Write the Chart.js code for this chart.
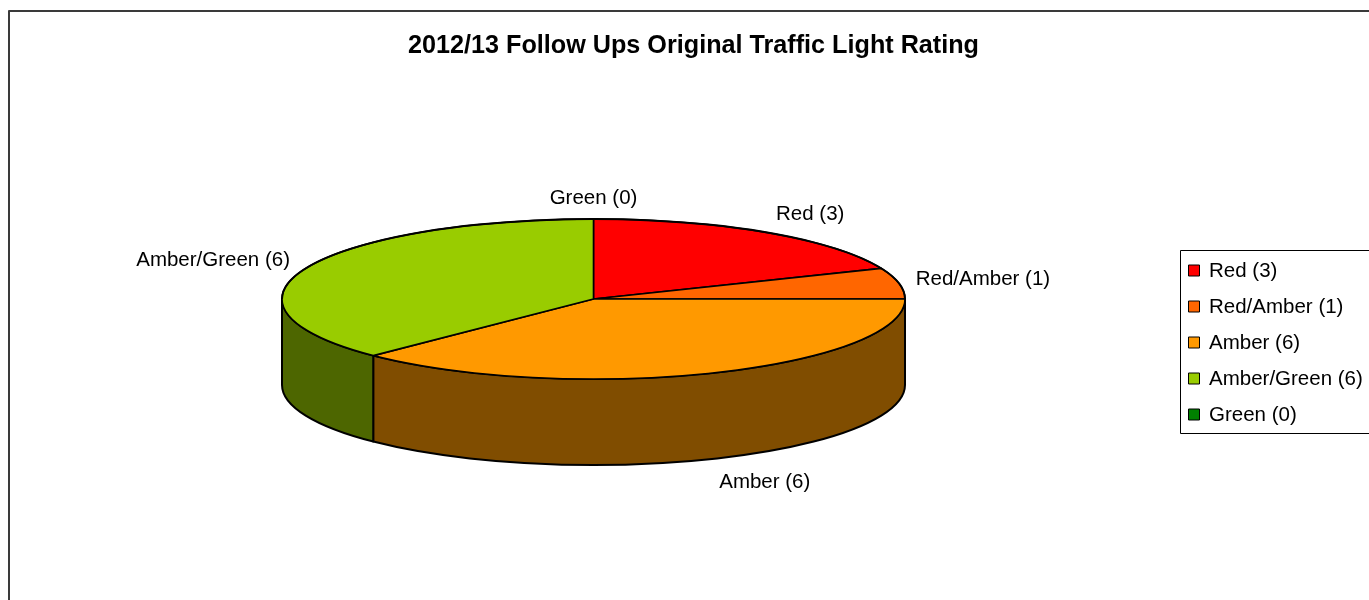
<!DOCTYPE html>
<html>
<head>
<meta charset="utf-8">
<script src="https://cdn.jsdelivr.net/npm/chart.js@4/dist/chart.umd.min.js"></script>
<style>
  html, body { margin: 0; padding: 0; background: #fff; overflow: hidden; }
  canvas { display: block; }
</style>
</head>
<body>
<canvas id="pie" width="1369" height="600"></canvas>
<script>
// Follow-up ratings and their counts
const chartTitle = '2012/13 Follow Ups Original Traffic Light Rating';
const ratings = ['Red', 'Red/Amber', 'Amber', 'Amber/Green', 'Green'];
const counts = [3, 1, 6, 6, 0];
const ratingColours = ['#FF0000', '#FF6600', '#FF9900', '#99CC00', '#008000'];

const FONT = '"Liberation Sans", Arial, Helvetica, sans-serif';
const TILT = 0.257;   // vertical squash of the top face
const DEPTH = 0.276;  // wall height relative to the radius

function shade(hex, f) {
  const n = parseInt(hex.slice(1), 16);
  const r = Math.round(((n >> 16) & 255) * f);
  const g = Math.round(((n >> 8) & 255) * f);
  const b = Math.round((n & 255) * f);
  return `rgb(${r},${g},${b})`;
}

function labelText(i) {
  return `${ratings[i]} (${counts[i]})`;
}

const pie3d = {
  id: 'pie3d',
  beforeDraw(chart) {
    const ctx = chart.ctx;
    ctx.save();
    ctx.fillStyle = '#fff';
    ctx.fillRect(0, 0, chart.width, chart.height);
    ctx.restore();
  },
  // the flat slices are replaced by the extruded ones drawn below
  beforeDatasetsDraw() { return false; },
  afterDraw(chart) {
    const ctx = chart.ctx;
    const meta = chart.getDatasetMeta(0);
    const colours = chart.data.datasets[0].backgroundColor;
    const arcs = meta.data.map(a => a.getProps(['x', 'y', 'startAngle', 'endAngle', 'outerRadius'], true));
    if (!arcs.length) return;
    const cx = arcs[0].x, cy = arcs[0].y;
    const rx = arcs[0].outerRadius;
    const ry = rx * TILT;
    const depth = rx * DEPTH;

    ctx.save();
    ctx.lineJoin = 'round';
    ctx.strokeStyle = '#000';

    // outer walls on the front half
    arcs.forEach((a, i) => {
      const s = Math.max(a.startAngle, 0);
      const e = Math.min(a.endAngle, Math.PI);
      if (e - s <= 1e-6) return;
      ctx.beginPath();
      ctx.ellipse(cx, cy, rx, ry, 0, s, e);
      ctx.lineTo(cx + rx * Math.cos(e), cy + ry * Math.sin(e) + depth);
      ctx.ellipse(cx, cy + depth, rx, ry, 0, e, s, true);
      ctx.closePath();
      ctx.fillStyle = shade(colours[i], 0.5);
      ctx.fill();
      ctx.lineWidth = 2;
      ctx.stroke();
    });

    // top face
    arcs.forEach((a, i) => {
      if (a.endAngle - a.startAngle <= 1e-6) return;
      ctx.beginPath();
      ctx.moveTo(cx, cy);
      ctx.ellipse(cx, cy, rx, ry, 0, a.startAngle, a.endAngle);
      ctx.closePath();
      ctx.fillStyle = colours[i];
      ctx.fill();
      ctx.lineWidth = 1.6;
      ctx.stroke();
    });

    // outer rim of the top face
    ctx.beginPath();
    ctx.ellipse(cx, cy, rx, ry, 0, Math.PI, 2 * Math.PI);
    ctx.lineWidth = 2;
    ctx.stroke();

    // slice labels outside the rim
    ctx.font = `20.5px ${FONT}`;
    ctx.fillStyle = '#000';
    arcs.forEach((a, i) => {
      const m = (a.startAngle + a.endAngle) / 2;
      const c = Math.cos(m), s = Math.sin(m);
      const above = s < -0.5, below = s > 0.5;
      let px = cx + rx * c + 17 * c;
      let py = cy + ry * s + (s > 0 ? depth : 0);
      py += (above ? 10 : below ? 14 : 22) * s;
      ctx.textAlign = c > 0.3 ? 'left' : (c < -0.3 ? 'right' : 'center');
      ctx.textBaseline = above ? 'bottom' : (below ? 'top' : 'middle');
      ctx.fillText(labelText(i), px, py);
    });

    // chart frame
    const frameX = 9, frameY = 11;
    const frameW = 1369;
    ctx.strokeStyle = '#3a3a3a';
    ctx.lineWidth = 2;
    ctx.strokeRect(frameX, frameY, frameW, chart.height + 20);

    // title, centred in the frame
    ctx.font = `bold 25.2px ${FONT}`;
    ctx.fillStyle = '#000';
    ctx.textAlign = 'center';
    ctx.textBaseline = 'middle';
    ctx.fillText(chartTitle, frameX + frameW / 2, 46);

    // legend
    const lgLeft = 1180.5, lgTop = 250.5, lgBottom = 433.5, rowH = 36;
    ctx.lineWidth = 1;
    ctx.strokeStyle = '#000';
    ctx.strokeRect(lgLeft, lgTop, chart.width, lgBottom - lgTop);
    ctx.font = `20.5px ${FONT}`;
    ctx.textAlign = 'left';
    ctx.textBaseline = 'middle';
    ratings.forEach((r, i) => {
      const yc = 270 + i * rowH;
      ctx.fillStyle = colours[i];
      ctx.fillRect(1188.5, yc - 5, 11, 11);
      ctx.strokeRect(1188.5, yc - 5, 11, 11);
      ctx.fillStyle = '#000';
      ctx.fillText(labelText(i), 1209, yc + 1);
    });
    ctx.restore();
  }
};

new Chart(document.getElementById('pie'), {
  type: 'pie',
  data: {
    labels: ratings,
    datasets: [{
      data: counts,
      backgroundColor: ratingColours,
      borderColor: '#000',
      borderWidth: 1
    }]
  },
  options: {
    responsive: false,
    devicePixelRatio: 1,
    animation: false,
    radius: 311.5,
    layout: { padding: { left: 0, right: 182, top: 0, bottom: 2 } },
    plugins: {
      legend: { display: false },
      title: { display: false },
      tooltip: { enabled: false }
    }
  },
  plugins: [pie3d]
});
</script>
</body>
</html>
